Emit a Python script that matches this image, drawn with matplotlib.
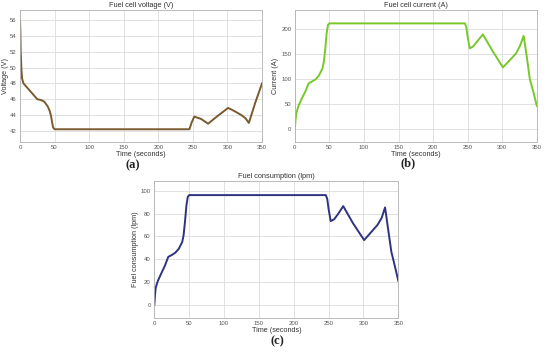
import matplotlib
matplotlib.use("Agg")
import matplotlib.pyplot as plt

# ---- data ----
t_v = [0, 0.5, 1, 2, 3, 5, 10, 15, 20, 25, 30, 35, 40, 43, 45, 47, 48, 50, 150, 245, 248, 252,
       262, 272, 286, 301, 310, 320, 326, 331, 340, 350]
voltage = [56.0, 54.5, 52.0, 49.8, 48.6, 48.0, 47.5, 47.0, 46.5, 46.0, 45.9, 45.7, 45.1, 44.5,
           43.8, 42.8, 42.4, 42.2, 42.2, 42.2, 43.0, 43.8, 43.5, 42.9, 43.9, 44.9, 44.5, 44.0, 43.6,
           43.0, 45.5, 48.0]

t_i = [0, 1, 2, 5, 10, 15, 20, 25, 30, 35, 40, 42, 44, 46, 48, 50, 150, 246, 248, 250, 253,
       258, 265, 272, 286, 301, 310, 320, 326, 331, 335, 340, 345, 350]
current = [0, 18, 31, 46, 61.5, 75, 92, 96, 100, 108, 122, 135, 160, 192, 209, 212, 212, 212,
           205, 185, 162, 166, 178, 190, 157, 124, 137, 152, 168, 187, 150, 100, 75, 47]

t_f = [0, 1, 2, 5, 10, 15, 20, 25, 30, 35, 40, 42, 44, 46, 48, 50, 150, 246, 248, 250, 253,
       258, 264, 271, 285, 301, 310, 320, 326, 331, 335, 340, 345, 350]
fuel = [0, 9, 15, 20.8, 27.5, 34, 42, 43.6, 45.6, 49, 55, 61, 73, 87, 94.7, 96.2, 96.2, 96.2,
        93, 84, 73.4, 75, 80, 86.5, 71.5, 56.7, 63, 69.9, 76, 85.4, 68, 46.5, 34, 21]

x_ticks = [0, 50, 100, 150, 200, 250, 300, 350]

plt.rcParams['font.family'] = ['Liberation Sans', 'DejaVu Sans']

fig = plt.figure(figsize=(5.5, 3.53), dpi=100)

def style(ax, title, ylabel, ylim, yticks, ylpad=1.5):
    ax.set_xlim(0, 350)
    ax.set_ylim(*ylim)
    ax.set_xticks(x_ticks)
    ax.set_yticks(yticks)
    ax.grid(True, color='#dcdcdc', lw=0.6)
    ax.set_axisbelow(True)
    for s in ax.spines.values():
        s.set_color('#b0b0b0')
        s.set_linewidth(0.6)
    ax.tick_params(labelsize=4.3, colors='#555555', length=0, pad=2.5)
    ax.set_title(title, fontsize=5.3, color='#333333', pad=2)
    ax.set_xlabel('Time (seconds)', fontsize=5.2, color='#333333', labelpad=0.5)
    ax.set_ylabel(ylabel, fontsize=5.2, color='#333333', labelpad=ylpad)

ax1 = fig.add_axes([0.0364, 0.598, 0.44, 0.374])
ax1.plot(t_v, voltage, color='#7a5a2e', lw=1.4, solid_joinstyle='round')
style(ax1, 'Fuel cell voltage (V)', 'Voltage (V)', (40.6, 57.3), [42, 44, 46, 48, 50, 52, 54, 56],
      ylpad=0.3)

ax2 = fig.add_axes([0.536, 0.598, 0.44, 0.374])
ax2.plot(t_i, current, color='#78c82a', lw=1.4, solid_joinstyle='round')
style(ax2, 'Fuel cell current (A)', 'Current (A)', (-25, 239), [0, 50, 100, 150, 200])

ax3 = fig.add_axes([0.2806, 0.1, 0.4436, 0.387])
ax3.plot(t_f, fuel, color='#2e3380', lw=1.4, solid_joinstyle='round')
style(ax3, 'Fuel consumption (lpm)', 'Fuel consumption (lpm)', (-11.4, 108.5), [0, 20, 40, 60, 80, 100])

for txt, x, y in [('(a)', 133, 165), ('(b)', 408, 163), ('(c)', 277, 341)]:
    fig.text(x / 550, 1 - y / 353, txt, fontsize=9, fontweight='bold',
             family='Liberation Serif', ha='center', va='center', color='#222222')

fig.savefig('out.png', dpi=100)
